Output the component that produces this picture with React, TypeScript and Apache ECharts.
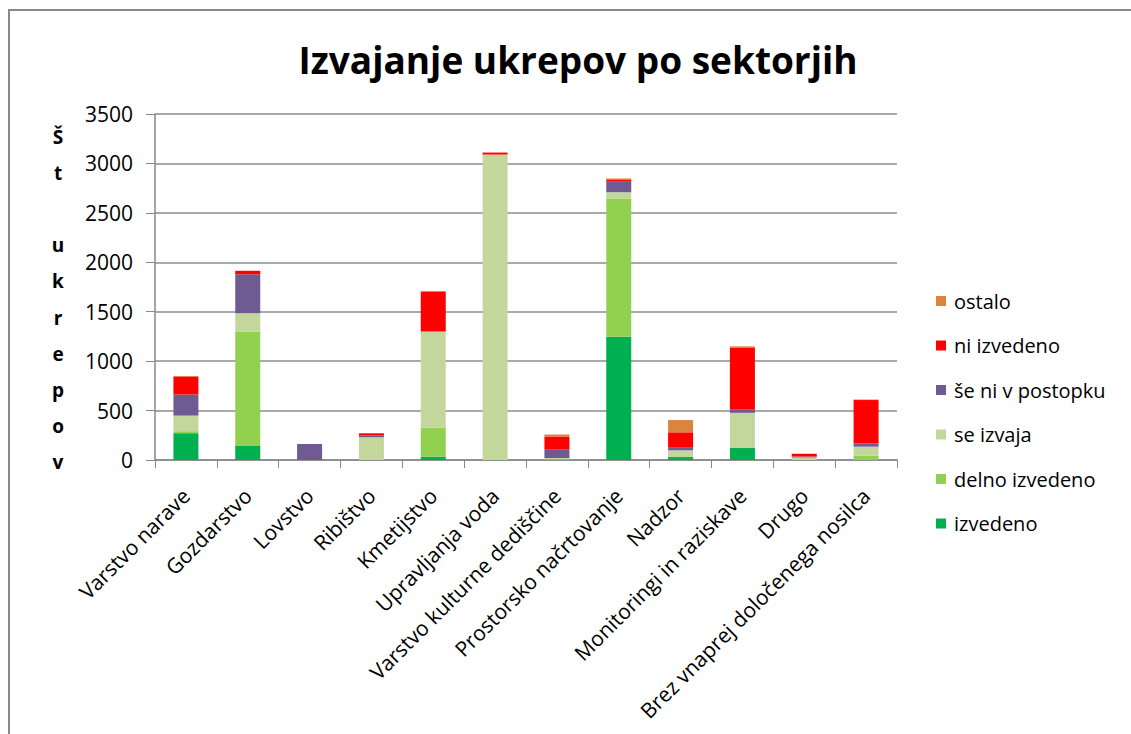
import React, { useEffect, useRef } from "react";
import * as echarts from "echarts";

const categories = [
  "Varstvo narave",
  "Gozdarstvo",
  "Lovstvo",
  "Ribištvo",
  "Kmetijstvo",
  "Upravljanja voda",
  "Varstvo kulturne dediščine",
  "Prostorsko načrtovanje",
  "Nadzor",
  "Monitoringi in raziskave",
  "Drugo",
  "Brez vnaprej določenega nosilca",
];

const izvedeno = [271, 142, 0, 0, 34, 0, 5, 1248, 30, 121, 0, 0];
const delnoIzvedeno = [20, 1159, 0, 0, 294, 0, 0, 1394, 0, 0, 0, 44];
const seIzvaja = [158, 183, 0, 230, 973, 3090, 15, 67, 68, 356, 26, 91];
const seNiVPostopku = [213, 395, 162, 20, 0, 0, 90, 106, 26, 31, 10, 34];
const niIzvedeno = [183, 35, 0, 20, 399, 20, 128, 23, 156, 629, 25, 437];
const ostalo = [5, 0, 0, 0, 10, 0, 20, 10, 124, 13, 4, 6];

const yTicks = { min: 0, max: 3500, interval: 500 };

const seriesDefs = [
  { name: "izvedeno", data: izvedeno, color: "#00AF4F" },
  { name: "delno izvedeno", data: delnoIzvedeno, color: "#92D050" },
  { name: "se izvaja", data: seIzvaja, color: "#C3D69B" },
  { name: "še ni v postopku", data: seNiVPostopku, color: "#705A92" },
  { name: "ni izvedeno", data: niIzvedeno, color: "#FF0000" },
  { name: "ostalo", data: ostalo, color: "#DB843D" },
];

const FONT = "'Open Sans', Lato, sans-serif";

export default function App() {
  const ref = useRef<HTMLDivElement>(null);
  useEffect(() => {
    if (!ref.current) return;
    const chart = echarts.init(ref.current, null, { renderer: "svg" });
    chart.setOption({
      animation: false,
      backgroundColor: "#ffffff",
      textStyle: { fontFamily: FONT },
      title: {
        text: "Izvajanje ukrepov po sektorjih",
        left: 573,
        textAlign: "center",
        top: 36,
        textStyle: { fontFamily: FONT, fontSize: 37, fontWeight: "bold", color: "#000" },
      },
      graphic: [
        {
          type: "rect",
          shape: { x: 9, y: 10, width: 1300, height: 900 },
          style: { fill: "none", stroke: "#888888", lineWidth: 2 },
          silent: true,
        },
        {
          type: "text",
          x: 58,
          y: 119,
          style: {
            text: "Š\nt\n\nu\nk\nr\ne\np\no\nv",
            fontFamily: FONT,
            fontSize: 19,
            fontWeight: "bold",
            lineHeight: 36.1,
            align: "center",
            verticalAlign: "top",
            fill: "#000",
          },
        },
      ],
      legend: {
        orient: "vertical",
        left: 931,
        top: 286,
        itemWidth: 10,
        itemHeight: 10,
        itemGap: 24.5,
        icon: "rect",
        data: ["ostalo", "ni izvedeno", "še ni v postopku", "se izvaja", "delno izvedeno", "izvedeno"],
        textStyle: { fontFamily: FONT, fontSize: 20, color: "#000", lineHeight: 20, padding: [0, 0, 0, 3] },
      },
      grid: { left: 155, right: 234, top: 114, bottom: 274 },
      xAxis: {
        type: "category",
        data: categories,
        axisLine: { lineStyle: { color: "#888", width: 1.5 } },
        axisTick: { show: true, length: 8, lineStyle: { color: "#888" } },
        axisLabel: {
          interval: 0,
          rotate: 45,
          margin: 32,
          fontFamily: FONT,
          fontSize: 21,
          color: "#000",
        },
      },
      yAxis: {
        type: "value",
        min: yTicks.min,
        max: yTicks.max,
        interval: yTicks.interval,
        axisLine: { show: true, lineStyle: { color: "#888", width: 1.5 } },
        axisTick: { show: true, length: 9, lineStyle: { color: "#888" } },
        splitLine: { lineStyle: { color: "#8c8c8c", width: 1.5 } },
        axisLabel: {
          fontFamily: FONT,
          fontSize: 21,
          color: "#000",
          margin: 22,
          formatter: (v: number) => String(v),
        },
      },
      series: seriesDefs.map((s) => ({
        name: s.name,
        type: "bar",
        stack: "total",
        data: s.data,
        barWidth: 25,
        itemStyle: { color: s.color },
      })),
    });
    return () => chart.dispose();
  }, []);
  return (
    <div
      ref={ref}
      style={{ position: "fixed", left: 0, top: 0, width: 1131, height: 734 }}
    />
  );
}
